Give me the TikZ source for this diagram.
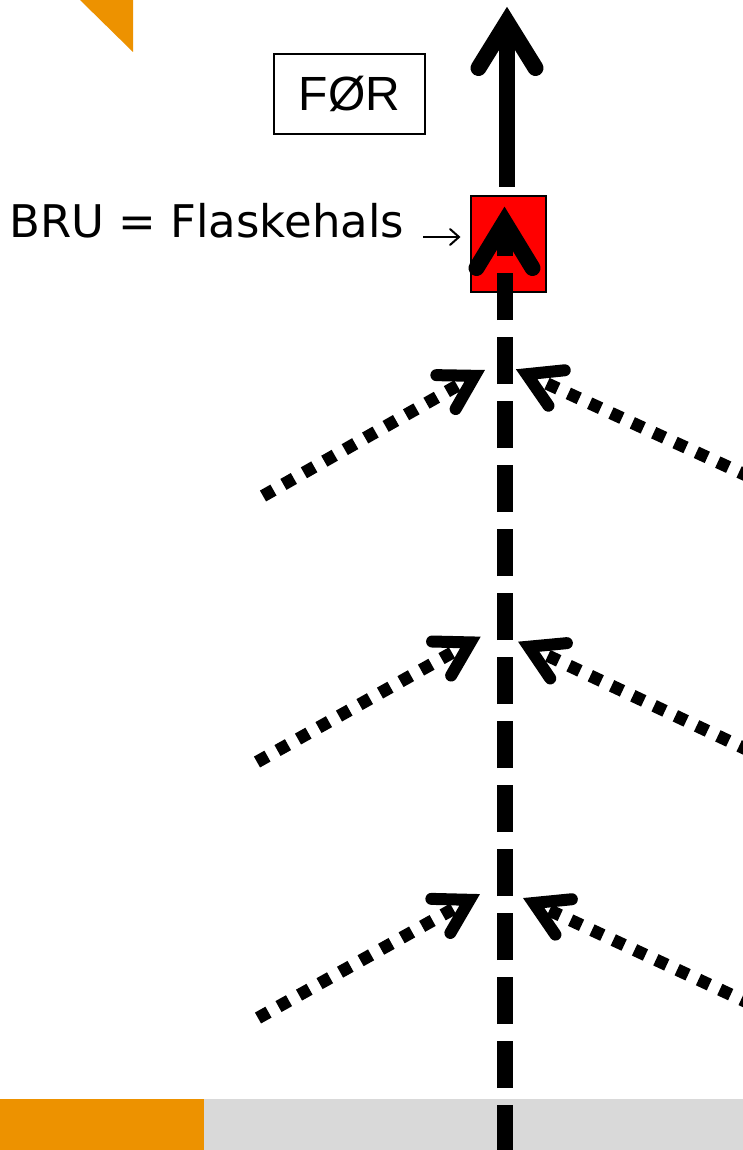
\documentclass[tikz,border=0pt]{standalone}
\usepackage{fontspec}
\usetikzlibrary{decorations.markings}
\newfontfamily\labelfont{DejaVu Sans}
\newfontfamily\boxfont{Liberation Sans}
\definecolor{brandorange}{RGB}{237,146,0}
\definecolor{footgray}{RGB}{217,217,217}
\definecolor{bridgered}{RGB}{255,0,0}

\tikzset{
  % open chevron head drawn at the end of a path: length, half width, stroke
  chevron/.style n args={3}{
    postaction={decorate},
    decoration={markings, mark=at position 1 with {
      \draw[solid, line width=#3, line cap=round, line join=miter]
        (-#1,#2) -- (0pt,0pt) -- (-#1,-#2);}}},
  shaft/.style={line width=16pt, line cap=butt},
  track/.style={line width=16pt, dash pattern=on 47pt off 17pt},
  feeder/.style={line width=12.5pt, dash pattern=on 12pt off 11.5pt,
    chevron={33pt}{19.5pt}{12pt}},
  pointer/.style={line width=2pt, chevron={9pt}{8pt}{2pt}},
  tagbox/.style={draw=black, line width=1.6pt, inner sep=0pt,
    minimum width=151pt, minimum height=80pt},
  bridgebox/.style={draw=black, line width=2pt, fill=bridgered, inner sep=0pt,
    minimum width=75pt, minimum height=96pt},
}

\begin{document}
\begin{tikzpicture}[x=1pt, y=-1pt]
  \useasboundingbox (0,0) rectangle (743,1150);
  \fill[white] (0,0) rectangle (743,1150);

  % corner mark and footer band
  \fill[brandorange] (80,0) -- (133,0) -- (133,52) -- cycle;
  \fill[brandorange] (0,1099) rectangle (204,1150);
  \fill[footgray] (204,1099) rectangle (743,1150);

  % labels
  \node[tagbox] (tag) at (349.5,94)
    {\boxfont\fontsize{48}{56}\selectfont FØR};
  \node[anchor=base west, inner sep=0pt] (lbl) at (9,237)
    {\labelfont\fontsize{45}{54}\selectfont BRU = Flaskehals};

  % the bridge
  \node[bridgebox] (bru) at (508.5,244) {};

  % junction points and outer ends of the feeders
  \coordinate (trackfoot) at (504.5,1152);
  \coordinate (bruvertex) at (504.5,222);
  \coordinate (topvertex) at (507,22);
  \coordinate (shaftbase) at ([yshift=8pt]bru.north -| topvertex);

  \coordinate (inL1) at (263,496);   \coordinate (jL1) at (474.7,375.8);
  \coordinate (inR1) at (750,477);   \coordinate (jR1) at (526.6,374.2);
  \coordinate (inL2) at (257,762);   \coordinate (jL2) at (470.4,642.4);
  \coordinate (inR2) at (750,751);   \coordinate (jR2) at (528.7,646.7);
  \coordinate (inL3) at (258,1018);  \coordinate (jL3) at (469.7,899.8);
  \coordinate (inR3) at (752,1004.5);\coordinate (jR3) at (533.7,903);

  % main road up to the bridge, and onward
  \draw[track, chevron={46pt}{28pt}{16pt}] (trackfoot) -- (bruvertex);
  \draw[shaft, chevron={46pt}{28.5pt}{16pt}] (shaftbase) -- (topvertex);

  % side roads joining the main road
  \draw[feeder] (inL1) -- (jL1);
  \draw[feeder] (inR1) -- (jR1);
  \draw[feeder] (inL2) -- (jL2);
  \draw[feeder] (inR2) -- (jR2);
  \draw[feeder] (inL3) -- (jL3);
  \draw[feeder] (inR3) -- (jR3);

  % pointer from the label to the bridge
  \draw[pointer] ([xshift=19pt]lbl.base east) -- ([xshift=-11pt]lbl.base east -| bru.west);
\end{tikzpicture}
\end{document}
